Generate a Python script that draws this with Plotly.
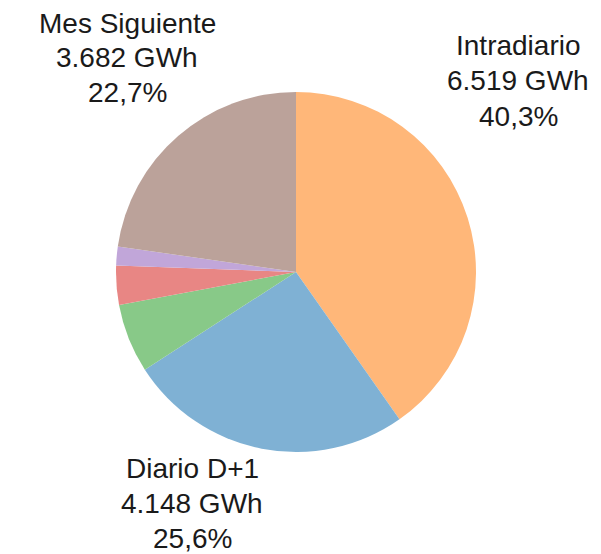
import plotly.graph_objects as go

labels = ["Intradiario", "Diario D+1", "Semana Siguiente", "Trimestre Siguiente", "Año Siguiente", "Mes Siguiente"]
values_gwh = [6519, 4148, 1004, 567, 275, 3682]
colors = ["#FFB779", "#7FB1D4", "#88C988", "#E88684", "#C1A6D9", "#BBA29A"]
shown = ["Intradiario", "Diario D+1", "Mes Siguiente"]

total = sum(values_gwh)

W, H = 601, 554
cx, cy, r = 288, 264, 180

fig = go.Figure(go.Pie(
    labels=labels,
    values=values_gwh,
    sort=False,
    direction="clockwise",
    rotation=0,
    marker=dict(colors=colors, line=dict(width=0)),
    textinfo="none",
    hoverinfo="label+value+percent",
    showlegend=False,
    domain=dict(x=[(cx - r) / W, (cx + r) / W], y=[(H - cy - r) / H, (H - cy + r) / H]),
))

def fmt_int(v):
    return f"{v:,}".replace(",", ".")

def fmt_pct(p):
    return f"{p:.1f}".replace(".", ",") + "%"

# centre x and first-line y of each label block (pixels from top-left)
label_pos = {
    "Mes Siguiente": (119, 15),
    "Intradiario": (510, 38),
    "Diario D+1": (184, 460),
}
line_gap = 35

font = dict(family="Liberation Sans, Arial, sans-serif", size=28, color="#1a1a1a")
for name in shown:
    i = labels.index(name)
    v = values_gwh[i]
    lines = [name, f"{fmt_int(v)} GWh", fmt_pct(100 * v / total)]
    x, y0 = label_pos[name]
    for k, line in enumerate(lines):
        fig.add_annotation(
            x=x / W, y=1 - (y0 + k * line_gap) / H, xref="paper", yref="paper",
            text=line, showarrow=False, align="center",
            xanchor="center", yanchor="middle", font=font,
        )

fig.update_layout(
    width=W, height=H,
    margin=dict(l=0, r=0, t=0, b=0),
    paper_bgcolor="white", plot_bgcolor="white",
)

fig.write_html("out.html")
